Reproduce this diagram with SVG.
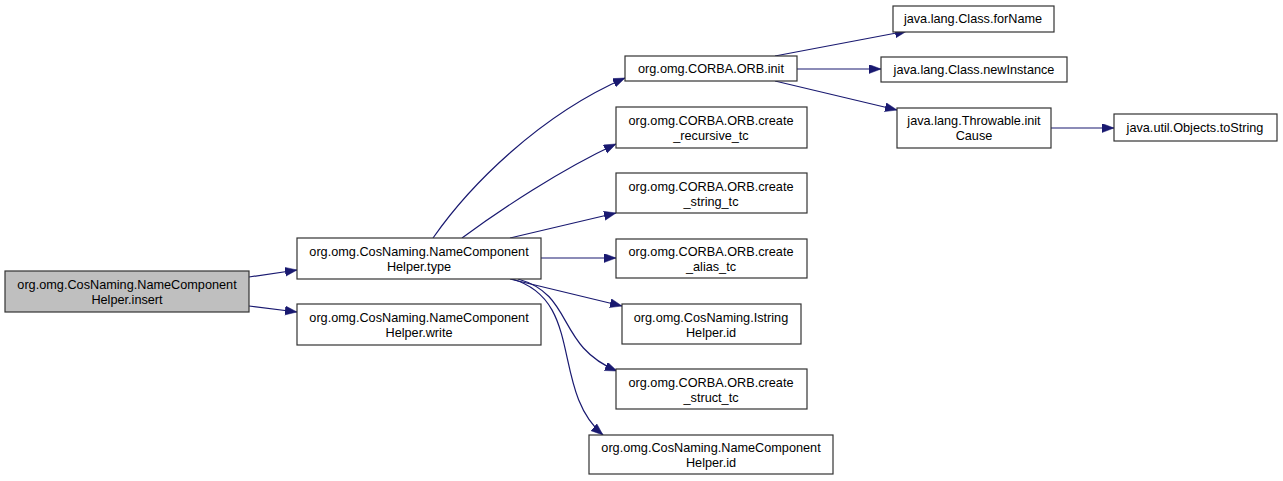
<svg xmlns="http://www.w3.org/2000/svg" width="1283" height="481" viewBox="0 0 1283 481">
<style>
.n rect{fill:#fff;stroke:#333;stroke-width:1.2}
.n.h rect{fill:#bfbfbf}
.n text{font-family:"Liberation Sans",Arial,sans-serif;font-size:12.7px;fill:#000;text-anchor:middle}
.e path{fill:none;stroke:#191970;stroke-width:1.2;marker-end:url(#a)}
</style>
<defs>
<marker id="a" markerUnits="userSpaceOnUse" markerWidth="13" markerHeight="10" refX="12" refY="4.5" orient="auto">
<path d="M0,0 L12,4.5 L0,9 z" fill="#191970" stroke="#191970" stroke-width="0.5"/>
</marker>
</defs>
<rect width="1283" height="481" fill="#fff"/>
<g class="e" id="edges">
<path d="M249,277 L297,270"/>
<path d="M249,306 L297,312"/>
<path d="M433,238 C470,185 540,115 625,78"/>
<path d="M462,238 C500,210 560,170 616,144"/>
<path d="M510,238 L616,213"/>
<path d="M541,258 L616,258"/>
<path d="M510,279 L622,306"/>
<path d="M518,279 C575,295 555,345 617,371"/>
<path d="M512,279 C585,300 550,390 603,435"/>
<path d="M775,56 L907,31"/>
<path d="M797,69 L881,69"/>
<path d="M775,81 L897,110"/>
<path d="M1051,128 L1114,128"/>
</g>
<g id="insert" class="n h"><rect x="5" y="271" width="244" height="41"/><text x="127" y="289">org.omg.CosNaming.NameComponent</text><text x="127" y="304">Helper.insert</text></g>
<g id="type" class="n"><rect x="297" y="238" width="244" height="41"/><text x="419" y="256">org.omg.CosNaming.NameComponent</text><text x="419" y="271">Helper.type</text></g>
<g id="write" class="n"><rect x="297" y="304" width="244" height="41"/><text x="419" y="322">org.omg.CosNaming.NameComponent</text><text x="419" y="337">Helper.write</text></g>
<g id="orbinit" class="n"><rect x="625" y="56" width="172" height="25"/><text x="711" y="73">org.omg.CORBA.ORB.init</text></g>
<g id="recursive" class="n"><rect x="616" y="107" width="191" height="41"/><text x="711" y="125">org.omg.CORBA.ORB.create</text><text x="711" y="140">_recursive_tc</text></g>
<g id="string" class="n"><rect x="616" y="173" width="191" height="40"/><text x="711" y="191">org.omg.CORBA.ORB.create</text><text x="711" y="206">_string_tc</text></g>
<g id="alias" class="n"><rect x="616" y="239" width="191" height="39"/><text x="711" y="256">org.omg.CORBA.ORB.create</text><text x="711" y="271">_alias_tc</text></g>
<g id="istring" class="n"><rect x="622" y="304" width="179" height="40"/><text x="711" y="322">org.omg.CosNaming.Istring</text><text x="711" y="337">Helper.id</text></g>
<g id="struct" class="n"><rect x="616" y="369" width="191" height="40"/><text x="711" y="387">org.omg.CORBA.ORB.create</text><text x="711" y="402">_struct_tc</text></g>
<g id="ncid" class="n"><rect x="589" y="435" width="244" height="39"/><text x="711" y="452">org.omg.CosNaming.NameComponent</text><text x="711" y="467">Helper.id</text></g>
<g id="forname" class="n"><rect x="893" y="6" width="161" height="26"/><text x="973" y="23">java.lang.Class.forName</text></g>
<g id="newinstance" class="n"><rect x="881" y="57" width="186" height="25"/><text x="974" y="74">java.lang.Class.newInstance</text></g>
<g id="initcause" class="n"><rect x="897" y="108" width="154" height="40"/><text x="974" y="125">java.lang.Throwable.init</text><text x="974" y="140">Cause</text></g>
<g id="tostring" class="n"><rect x="1114" y="114" width="163" height="27"/><text x="1195" y="132">java.util.Objects.toString</text></g>
</svg>
